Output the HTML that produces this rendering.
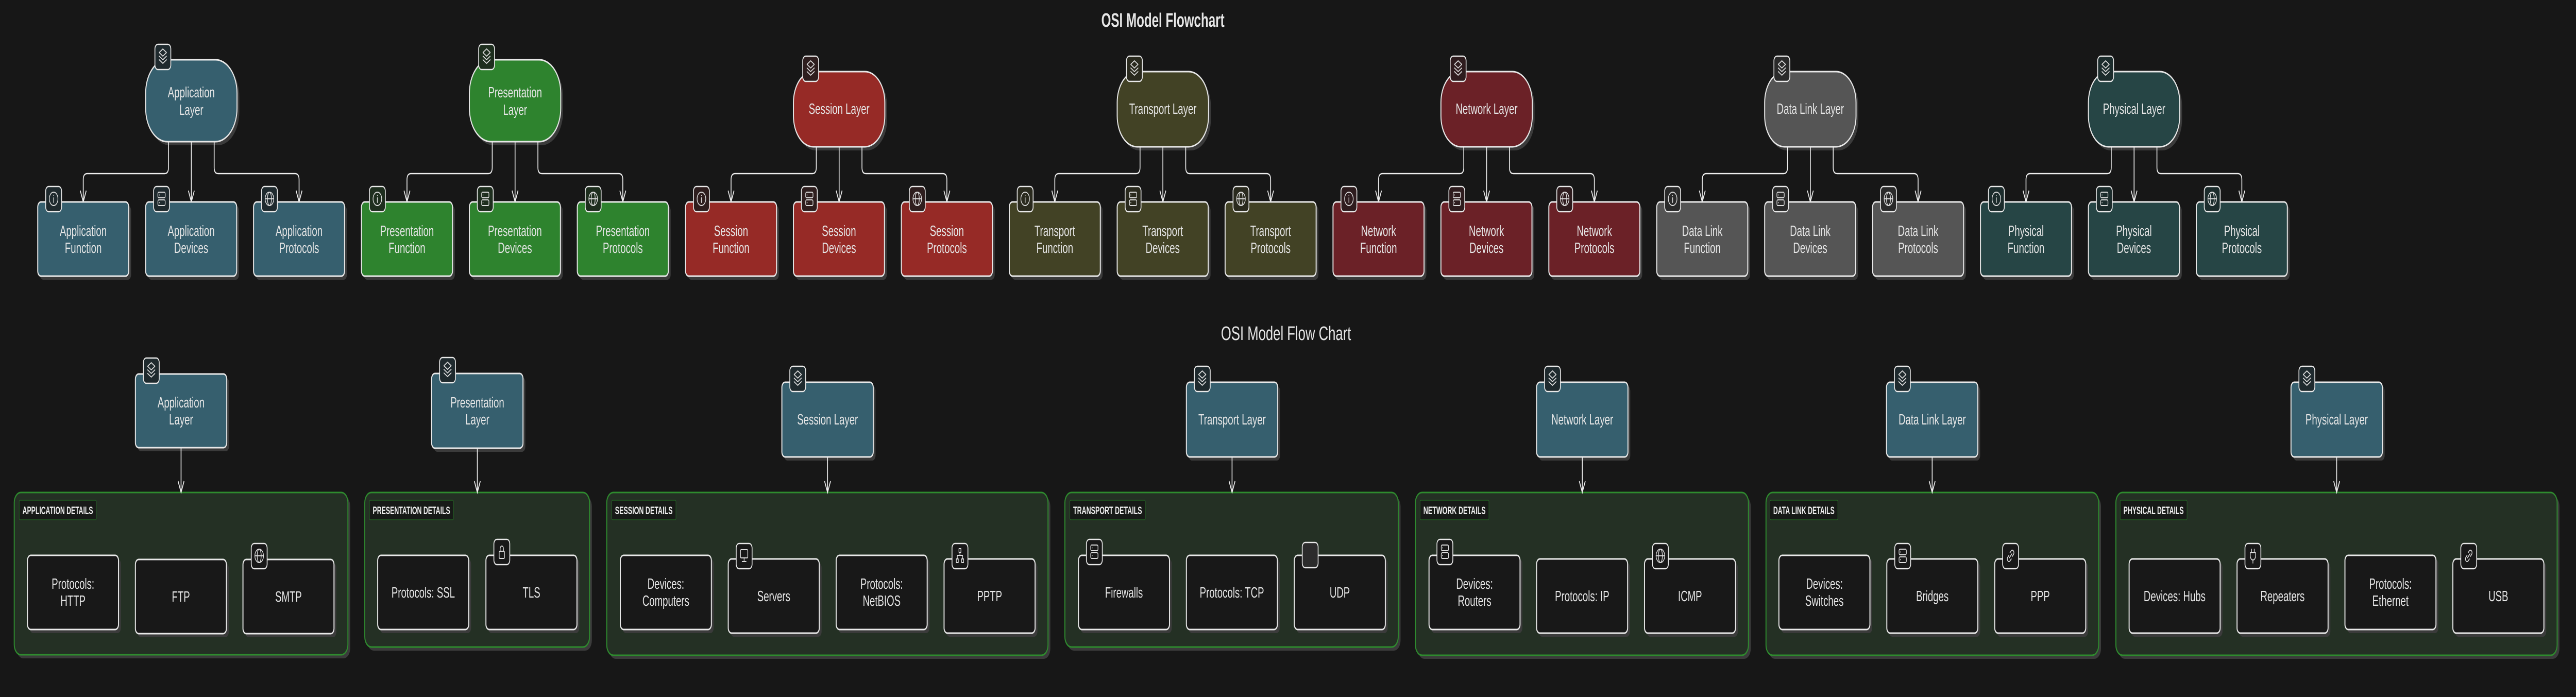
<!DOCTYPE html>
<html><head><meta charset="utf-8"><style>
html,body{margin:0;padding:0;background:#171717;width:100%;height:100%;overflow:hidden;}
svg{display:block;position:absolute;left:0;top:0;width:100vw;height:100vh;}
text{font-family:"Liberation Sans",Arial,sans-serif;fill:#e6e6e6;}
.t{font-size:29px;text-anchor:middle;}
.lb{font-size:21px;font-weight:bold;fill:#f0f0f0;}
.n{stroke:#e8e8e8;stroke-width:3;}
.sh{fill:#3b3b3b;}
.e{stroke:#eeeeee;stroke-width:2.5;fill:none;}
.ib{stroke:#e8e8e8;stroke-width:2.5;}
.g{stroke:#dddddd;stroke-width:2;fill:none;stroke-linecap:round;stroke-linejoin:round;}
</style></head><body>
<svg viewBox="0 0 7782 1353" preserveAspectRatio="none" xmlns="http://www.w3.org/2000/svg">
<defs>
<symbol id="layers" viewBox="0 0 48 48"><g class="g"><polygon points="24,9 35,16 24,23 13,16"/><polyline points="13,23 24,30 35,23"/><polyline points="13,30 24,37 35,30"/></g></symbol>
<symbol id="info" viewBox="0 0 48 48"><g class="g"><circle cx="24" cy="24" r="13"/><line x1="24" y1="22" x2="24" y2="31"/><line x1="24" y1="17" x2="24" y2="17.5"/></g></symbol>
<symbol id="server" viewBox="0 0 48 48"><g class="g"><rect x="13" y="11" width="22" height="11" rx="3"/><rect x="13" y="26" width="22" height="11" rx="3"/><line x1="17" y1="16.5" x2="17.5" y2="16.5"/><line x1="17" y1="31.5" x2="17.5" y2="31.5"/></g></symbol>
<symbol id="globe" viewBox="0 0 48 48"><g class="g"><circle cx="24" cy="24" r="13"/><ellipse cx="24" cy="24" rx="6" ry="13"/><line x1="11" y1="24" x2="37" y2="24"/></g></symbol>
<symbol id="lock" viewBox="0 0 48 48"><g class="g"><rect x="16" y="23" width="16" height="14" rx="2"/><path d="M19 23 V18 a5 5 0 0 1 10 0 V23"/></g></symbol>
<symbol id="monitor" viewBox="0 0 48 48"><g class="g"><rect x="13" y="12" width="22" height="16" rx="2"/><line x1="24" y1="28" x2="24" y2="34"/><line x1="18" y1="35" x2="30" y2="35"/></g></symbol>
<symbol id="sitemap" viewBox="0 0 48 48"><g class="g"><rect x="21" y="10" width="6" height="7"/><rect x="13" y="30" width="6" height="7"/><rect x="29" y="30" width="6" height="7"/><line x1="24" y1="17" x2="24" y2="23"/><polyline points="16,30 16,23 32,23 32,30"/></g></symbol>
<symbol id="link" viewBox="0 0 48 48"><g class="g"><path d="M22 18 l4 -4 a5 5 0 0 1 7 7 l-4 4"/><path d="M26 30 l-4 4 a5 5 0 0 1 -7 -7 l4 -4"/><line x1="20" y1="28" x2="28" y2="20"/></g></symbol>
<symbol id="plug" viewBox="0 0 48 48"><g class="g"><line x1="20" y1="11" x2="20" y2="18"/><line x1="28" y1="11" x2="28" y2="18"/><path d="M16 18 H32 V24 a8 8 0 0 1 -16 0 Z"/><line x1="24" y1="32" x2="24" y2="38"/></g></symbol>
</defs>
<rect width="7782" height="1353" fill="#171717"/>

<text x="3513" y="52" style="font-size:38px;font-weight:bold;" text-anchor="middle" textLength="372" lengthAdjust="spacingAndGlyphs">OSI Model Flowchart</text>
<text x="3885" y="660" style="font-size:38px;" text-anchor="middle" textLength="393" lengthAdjust="spacingAndGlyphs">OSI Model Flow Chart</text>

<!-- Application -->
<g>
<rect class="sh" x="447" y="123" width="276" height="159" rx="65"/>
<rect class="n" x="440" y="116" width="276" height="159" rx="65" fill="#365f6e"/>
<text class="t" x="578" y="189">Application</text><text class="t" x="578" y="223">Layer</text>
<rect class="ib" x="468" y="86" width="48" height="49" rx="9" fill="#1f2a2e"/><use href="#layers" x="468" y="86" width="48" height="48"/>
<path class="e" d="M509 275 V325 Q509 337 497 337 H263.5 Q251.5 337 251.5 349 V392"/>
<path class="e" d="M578 275 V392"/>
<path class="e" d="M647 275 V325 Q647 337 659 337 H891.5 Q903.5 337 903.5 349 V392"/>
<polyline class="e" points="242.5,370 251.5,392 260.5,370"/><polyline class="e" points="569,370 578,392 587,370"/><polyline class="e" points="894.5,370 903.5,392 912.5,370"/>
<rect class="sh" x="121" y="399" width="275" height="144" rx="10"/><rect class="n" x="114" y="392" width="275" height="144" rx="10" fill="#365f6e"/>
<rect class="sh" x="447" y="399" width="275" height="144" rx="10"/><rect class="n" x="440" y="392" width="275" height="144" rx="10" fill="#365f6e"/>
<rect class="sh" x="773" y="399" width="275" height="144" rx="10"/><rect class="n" x="766" y="392" width="275" height="144" rx="10" fill="#365f6e"/>
<text class="t" x="251.5" y="458">Application</text><text class="t" x="251.5" y="491">Function</text>
<text class="t" x="577.5" y="458">Application</text><text class="t" x="577.5" y="491">Devices</text>
<text class="t" x="903.5" y="458">Application</text><text class="t" x="903.5" y="491">Protocols</text>
<rect class="ib" x="138" y="362" width="48" height="49" rx="9" fill="#1f2a2e"/><use href="#info" x="138" y="362" width="48" height="48"/>
<rect class="ib" x="464" y="362" width="48" height="49" rx="9" fill="#1f2a2e"/><use href="#server" x="464" y="362" width="48" height="48"/>
<rect class="ib" x="790" y="362" width="48" height="49" rx="9" fill="#1f2a2e"/><use href="#globe" x="790" y="362" width="48" height="48"/>
</g>

<!-- Presentation -->
<g>
<rect class="sh" x="1425" y="123" width="276" height="159" rx="65"/>
<rect class="n" x="1418" y="116" width="276" height="159" rx="65" fill="#2e832e"/>
<text class="t" x="1556" y="189">Presentation</text><text class="t" x="1556" y="223">Layer</text>
<rect class="ib" x="1446" y="86" width="48" height="49" rx="9" fill="#1e2e1e"/><use href="#layers" x="1446" y="86" width="48" height="48"/>
<path class="e" d="M1487 275 V325 Q1487 337 1475 337 H1241.5 Q1229.5 337 1229.5 349 V392"/>
<path class="e" d="M1556 275 V392"/>
<path class="e" d="M1625 275 V325 Q1625 337 1637 337 H1869.5 Q1881.5 337 1881.5 349 V392"/>
<polyline class="e" points="1220.5,370 1229.5,392 1238.5,370"/><polyline class="e" points="1547,370 1556,392 1565,370"/><polyline class="e" points="1872.5,370 1881.5,392 1890.5,370"/>
<rect class="sh" x="1099" y="399" width="275" height="144" rx="10"/><rect class="n" x="1092" y="392" width="275" height="144" rx="10" fill="#2e832e"/>
<rect class="sh" x="1425" y="399" width="275" height="144" rx="10"/><rect class="n" x="1418" y="392" width="275" height="144" rx="10" fill="#2e832e"/>
<rect class="sh" x="1751" y="399" width="275" height="144" rx="10"/><rect class="n" x="1744" y="392" width="275" height="144" rx="10" fill="#2e832e"/>
<text class="t" x="1229.5" y="458">Presentation</text><text class="t" x="1229.5" y="491">Function</text>
<text class="t" x="1555.5" y="458">Presentation</text><text class="t" x="1555.5" y="491">Devices</text>
<text class="t" x="1881.5" y="458">Presentation</text><text class="t" x="1881.5" y="491">Protocols</text>
<rect class="ib" x="1116" y="362" width="48" height="49" rx="9" fill="#1e2e1e"/><use href="#info" x="1116" y="362" width="48" height="48"/>
<rect class="ib" x="1442" y="362" width="48" height="49" rx="9" fill="#1e2e1e"/><use href="#server" x="1442" y="362" width="48" height="48"/>
<rect class="ib" x="1768" y="362" width="48" height="49" rx="9" fill="#1e2e1e"/><use href="#globe" x="1768" y="362" width="48" height="48"/>
</g>

<!-- Session -->
<g>
<rect class="sh" x="2404" y="146" width="276" height="146" rx="60"/>
<rect class="n" x="2397" y="139" width="276" height="146" rx="60" fill="#962a26"/>
<text class="t" x="2535" y="221">Session Layer</text>
<rect class="ib" x="2425" y="109" width="48" height="49" rx="9" fill="#2e1e1e"/><use href="#layers" x="2425" y="109" width="48" height="48"/>
<path class="e" d="M2466 285 V325 Q2466 337 2454 337 H2220.5 Q2208.5 337 2208.5 349 V392"/>
<path class="e" d="M2535 285 V392"/>
<path class="e" d="M2604 285 V325 Q2604 337 2616 337 H2848.5 Q2860.5 337 2860.5 349 V392"/>
<polyline class="e" points="2199.5,370 2208.5,392 2217.5,370"/><polyline class="e" points="2526,370 2535,392 2544,370"/><polyline class="e" points="2851.5,370 2860.5,392 2869.5,370"/>
<rect class="sh" x="2078" y="399" width="275" height="144" rx="10"/><rect class="n" x="2071" y="392" width="275" height="144" rx="10" fill="#962a26"/>
<rect class="sh" x="2404" y="399" width="275" height="144" rx="10"/><rect class="n" x="2397" y="392" width="275" height="144" rx="10" fill="#962a26"/>
<rect class="sh" x="2730" y="399" width="275" height="144" rx="10"/><rect class="n" x="2723" y="392" width="275" height="144" rx="10" fill="#962a26"/>
<text class="t" x="2208.5" y="458">Session</text><text class="t" x="2208.5" y="491">Function</text>
<text class="t" x="2534.5" y="458">Session</text><text class="t" x="2534.5" y="491">Devices</text>
<text class="t" x="2860.5" y="458">Session</text><text class="t" x="2860.5" y="491">Protocols</text>
<rect class="ib" x="2095" y="362" width="48" height="49" rx="9" fill="#2e1e1e"/><use href="#info" x="2095" y="362" width="48" height="48"/>
<rect class="ib" x="2421" y="362" width="48" height="49" rx="9" fill="#2e1e1e"/><use href="#server" x="2421" y="362" width="48" height="48"/>
<rect class="ib" x="2747" y="362" width="48" height="49" rx="9" fill="#2e1e1e"/><use href="#globe" x="2747" y="362" width="48" height="48"/>
</g>

<!-- Transport -->
<g>
<rect class="sh" x="3382" y="146" width="276" height="146" rx="60"/>
<rect class="n" x="3375" y="139" width="276" height="146" rx="60" fill="#424225"/>
<text class="t" x="3513" y="221">Transport Layer</text>
<rect class="ib" x="3403" y="109" width="48" height="49" rx="9" fill="#2a2a1e"/><use href="#layers" x="3403" y="109" width="48" height="48"/>
<path class="e" d="M3444 285 V325 Q3444 337 3432 337 H3198.5 Q3186.5 337 3186.5 349 V392"/>
<path class="e" d="M3513 285 V392"/>
<path class="e" d="M3582 285 V325 Q3582 337 3594 337 H3826.5 Q3838.5 337 3838.5 349 V392"/>
<polyline class="e" points="3177.5,370 3186.5,392 3195.5,370"/><polyline class="e" points="3504,370 3513,392 3522,370"/><polyline class="e" points="3829.5,370 3838.5,392 3847.5,370"/>
<rect class="sh" x="3056" y="399" width="275" height="144" rx="10"/><rect class="n" x="3049" y="392" width="275" height="144" rx="10" fill="#424225"/>
<rect class="sh" x="3382" y="399" width="275" height="144" rx="10"/><rect class="n" x="3375" y="392" width="275" height="144" rx="10" fill="#424225"/>
<rect class="sh" x="3708" y="399" width="275" height="144" rx="10"/><rect class="n" x="3701" y="392" width="275" height="144" rx="10" fill="#424225"/>
<text class="t" x="3186.5" y="458">Transport</text><text class="t" x="3186.5" y="491">Function</text>
<text class="t" x="3512.5" y="458">Transport</text><text class="t" x="3512.5" y="491">Devices</text>
<text class="t" x="3838.5" y="458">Transport</text><text class="t" x="3838.5" y="491">Protocols</text>
<rect class="ib" x="3073" y="362" width="48" height="49" rx="9" fill="#2a2a1e"/><use href="#info" x="3073" y="362" width="48" height="48"/>
<rect class="ib" x="3399" y="362" width="48" height="49" rx="9" fill="#2a2a1e"/><use href="#server" x="3399" y="362" width="48" height="48"/>
<rect class="ib" x="3725" y="362" width="48" height="49" rx="9" fill="#2a2a1e"/><use href="#globe" x="3725" y="362" width="48" height="48"/>
</g>

<!-- Network -->
<g>
<rect class="sh" x="4360" y="146" width="276" height="146" rx="60"/>
<rect class="n" x="4353" y="139" width="276" height="146" rx="60" fill="#6b2127"/>
<text class="t" x="4491" y="221">Network Layer</text>
<rect class="ib" x="4381" y="109" width="48" height="49" rx="9" fill="#2e1c1e"/><use href="#layers" x="4381" y="109" width="48" height="48"/>
<path class="e" d="M4422 285 V325 Q4422 337 4410 337 H4176.5 Q4164.5 337 4164.5 349 V392"/>
<path class="e" d="M4491 285 V392"/>
<path class="e" d="M4560 285 V325 Q4560 337 4572 337 H4804.5 Q4816.5 337 4816.5 349 V392"/>
<polyline class="e" points="4155.5,370 4164.5,392 4173.5,370"/><polyline class="e" points="4482,370 4491,392 4500,370"/><polyline class="e" points="4807.5,370 4816.5,392 4825.5,370"/>
<rect class="sh" x="4034" y="399" width="275" height="144" rx="10"/><rect class="n" x="4027" y="392" width="275" height="144" rx="10" fill="#6b2127"/>
<rect class="sh" x="4360" y="399" width="275" height="144" rx="10"/><rect class="n" x="4353" y="392" width="275" height="144" rx="10" fill="#6b2127"/>
<rect class="sh" x="4686" y="399" width="275" height="144" rx="10"/><rect class="n" x="4679" y="392" width="275" height="144" rx="10" fill="#6b2127"/>
<text class="t" x="4164.5" y="458">Network</text><text class="t" x="4164.5" y="491">Function</text>
<text class="t" x="4490.5" y="458">Network</text><text class="t" x="4490.5" y="491">Devices</text>
<text class="t" x="4816.5" y="458">Network</text><text class="t" x="4816.5" y="491">Protocols</text>
<rect class="ib" x="4051" y="362" width="48" height="49" rx="9" fill="#2e1c1e"/><use href="#info" x="4051" y="362" width="48" height="48"/>
<rect class="ib" x="4377" y="362" width="48" height="49" rx="9" fill="#2e1c1e"/><use href="#server" x="4377" y="362" width="48" height="48"/>
<rect class="ib" x="4703" y="362" width="48" height="49" rx="9" fill="#2e1c1e"/><use href="#globe" x="4703" y="362" width="48" height="48"/>
</g>

<!-- Data Link -->
<g>
<rect class="sh" x="5338" y="146" width="276" height="146" rx="60"/>
<rect class="n" x="5331" y="139" width="276" height="146" rx="60" fill="#555555"/>
<text class="t" x="5469" y="221">Data Link Layer</text>
<rect class="ib" x="5359" y="109" width="48" height="49" rx="9" fill="#2a2a2a"/><use href="#layers" x="5359" y="109" width="48" height="48"/>
<path class="e" d="M5400 285 V325 Q5400 337 5388 337 H5154.5 Q5142.5 337 5142.5 349 V392"/>
<path class="e" d="M5469 285 V392"/>
<path class="e" d="M5538 285 V325 Q5538 337 5550 337 H5782.5 Q5794.5 337 5794.5 349 V392"/>
<polyline class="e" points="5133.5,370 5142.5,392 5151.5,370"/><polyline class="e" points="5460,370 5469,392 5478,370"/><polyline class="e" points="5785.5,370 5794.5,392 5803.5,370"/>
<rect class="sh" x="5012" y="399" width="275" height="144" rx="10"/><rect class="n" x="5005" y="392" width="275" height="144" rx="10" fill="#555555"/>
<rect class="sh" x="5338" y="399" width="275" height="144" rx="10"/><rect class="n" x="5331" y="392" width="275" height="144" rx="10" fill="#555555"/>
<rect class="sh" x="5664" y="399" width="275" height="144" rx="10"/><rect class="n" x="5657" y="392" width="275" height="144" rx="10" fill="#555555"/>
<text class="t" x="5142.5" y="458">Data Link</text><text class="t" x="5142.5" y="491">Function</text>
<text class="t" x="5468.5" y="458">Data Link</text><text class="t" x="5468.5" y="491">Devices</text>
<text class="t" x="5794.5" y="458">Data Link</text><text class="t" x="5794.5" y="491">Protocols</text>
<rect class="ib" x="5029" y="362" width="48" height="49" rx="9" fill="#2a2a2a"/><use href="#info" x="5029" y="362" width="48" height="48"/>
<rect class="ib" x="5355" y="362" width="48" height="49" rx="9" fill="#2a2a2a"/><use href="#server" x="5355" y="362" width="48" height="48"/>
<rect class="ib" x="5681" y="362" width="48" height="49" rx="9" fill="#2a2a2a"/><use href="#globe" x="5681" y="362" width="48" height="48"/>
</g>

<!-- Physical -->
<g>
<rect class="sh" x="6316" y="146" width="276" height="146" rx="60"/>
<rect class="n" x="6309" y="139" width="276" height="146" rx="60" fill="#264545"/>
<text class="t" x="6447" y="221">Physical Layer</text>
<rect class="ib" x="6337" y="109" width="48" height="49" rx="9" fill="#1c2c2c"/><use href="#layers" x="6337" y="109" width="48" height="48"/>
<path class="e" d="M6378 285 V325 Q6378 337 6366 337 H6132.5 Q6120.5 337 6120.5 349 V392"/>
<path class="e" d="M6447 285 V392"/>
<path class="e" d="M6516 285 V325 Q6516 337 6528 337 H6760.5 Q6772.5 337 6772.5 349 V392"/>
<polyline class="e" points="6111.5,370 6120.5,392 6129.5,370"/><polyline class="e" points="6438,370 6447,392 6456,370"/><polyline class="e" points="6763.5,370 6772.5,392 6781.5,370"/>
<rect class="sh" x="5990" y="399" width="275" height="144" rx="10"/><rect class="n" x="5983" y="392" width="275" height="144" rx="10" fill="#264545"/>
<rect class="sh" x="6316" y="399" width="275" height="144" rx="10"/><rect class="n" x="6309" y="392" width="275" height="144" rx="10" fill="#264545"/>
<rect class="sh" x="6642" y="399" width="275" height="144" rx="10"/><rect class="n" x="6635" y="392" width="275" height="144" rx="10" fill="#264545"/>
<text class="t" x="6120.5" y="458">Physical</text><text class="t" x="6120.5" y="491">Function</text>
<text class="t" x="6446.5" y="458">Physical</text><text class="t" x="6446.5" y="491">Devices</text>
<text class="t" x="6772.5" y="458">Physical</text><text class="t" x="6772.5" y="491">Protocols</text>
<rect class="ib" x="6007" y="362" width="48" height="49" rx="9" fill="#1c2c2c"/><use href="#info" x="6007" y="362" width="48" height="48"/>
<rect class="ib" x="6333" y="362" width="48" height="49" rx="9" fill="#1c2c2c"/><use href="#server" x="6333" y="362" width="48" height="48"/>
<rect class="ib" x="6659" y="362" width="48" height="49" rx="9" fill="#1c2c2c"/><use href="#globe" x="6659" y="362" width="48" height="48"/>
</g>

<!-- subgraphs -->
<g>
<rect class="sh" x="50" y="963" width="1008" height="315" rx="20"/>
<rect x="43" y="956" width="1008" height="315" rx="20" fill="#243024" stroke="#2e8b2e" stroke-width="3"/>
<rect class="sh" x="1109" y="963" width="679" height="300" rx="20"/>
<rect x="1102" y="956" width="679" height="300" rx="20" fill="#243024" stroke="#2e8b2e" stroke-width="3"/>
<rect class="sh" x="1840" y="963" width="1333" height="316" rx="20"/>
<rect x="1833" y="956" width="1333" height="316" rx="20" fill="#243024" stroke="#2e8b2e" stroke-width="3"/>
<rect class="sh" x="3224" y="963" width="1007" height="300" rx="20"/>
<rect x="3217" y="956" width="1007" height="300" rx="20" fill="#243024" stroke="#2e8b2e" stroke-width="3"/>
<rect class="sh" x="4283" y="963" width="1006" height="316" rx="20"/>
<rect x="4276" y="956" width="1006" height="316" rx="20" fill="#243024" stroke="#2e8b2e" stroke-width="3"/>
<rect class="sh" x="5342" y="963" width="1005" height="316" rx="20"/>
<rect x="5335" y="956" width="1005" height="316" rx="20" fill="#243024" stroke="#2e8b2e" stroke-width="3"/>
<rect class="sh" x="6399" y="963" width="1333" height="316" rx="20"/>
<rect x="6392" y="956" width="1333" height="316" rx="20" fill="#243024" stroke="#2e8b2e" stroke-width="3"/>
</g>
<g fill="#171a17" stroke="#245f24" stroke-width="1.5">
<rect x="58" y="971" width="233" height="38" rx="3"/>
<rect x="1116" y="971" width="254" height="38" rx="3"/>
<rect x="1848" y="971" width="194" height="38" rx="3"/>
<rect x="3232" y="971" width="228" height="38" rx="3"/>
<rect x="4290" y="971" width="208" height="38" rx="3"/>
<rect x="5347" y="971" width="205" height="38" rx="3"/>
<rect x="6405" y="971" width="202" height="38" rx="3"/>
</g>
<text class="lb" x="68" y="998" textLength="213" lengthAdjust="spacingAndGlyphs">APPLICATION DETAILS</text>
<text class="lb" x="1126" y="998" textLength="234" lengthAdjust="spacingAndGlyphs">PRESENTATION DETAILS</text>
<text class="lb" x="1858" y="998" textLength="174" lengthAdjust="spacingAndGlyphs">SESSION DETAILS</text>
<text class="lb" x="3242" y="998" textLength="208" lengthAdjust="spacingAndGlyphs">TRANSPORT DETAILS</text>
<text class="lb" x="4300" y="998" textLength="188" lengthAdjust="spacingAndGlyphs">NETWORK DETAILS</text>
<text class="lb" x="5357" y="998" textLength="185" lengthAdjust="spacingAndGlyphs">DATA LINK DETAILS</text>
<text class="lb" x="6415" y="998" textLength="182" lengthAdjust="spacingAndGlyphs">PHYSICAL DETAILS</text>

<!-- layer nodes bottom -->
<g>
<rect class="sh" x="416" y="733" width="276" height="143" rx="10"/><rect class="n" x="409" y="726" width="276" height="143" rx="10" fill="#365f6e"/>
<rect class="sh" x="1311" y="732" width="276" height="145" rx="10"/><rect class="n" x="1304" y="725" width="276" height="145" rx="10" fill="#365f6e"/>
<rect class="sh" x="2369" y="749" width="276" height="145" rx="10"/><rect class="n" x="2362" y="742" width="276" height="145" rx="10" fill="#365f6e"/>
<rect class="sh" x="3591" y="749" width="276" height="145" rx="10"/><rect class="n" x="3584" y="742" width="276" height="145" rx="10" fill="#365f6e"/>
<rect class="sh" x="4649" y="749" width="276" height="145" rx="10"/><rect class="n" x="4642" y="742" width="276" height="145" rx="10" fill="#365f6e"/>
<rect class="sh" x="5706" y="749" width="276" height="145" rx="10"/><rect class="n" x="5699" y="742" width="276" height="145" rx="10" fill="#365f6e"/>
<rect class="sh" x="6928" y="749" width="276" height="145" rx="10"/><rect class="n" x="6921" y="742" width="276" height="145" rx="10" fill="#365f6e"/>
<text class="t" x="547" y="791">Application</text><text class="t" x="547" y="824">Layer</text>
<text class="t" x="1442" y="791">Presentation</text><text class="t" x="1442" y="824">Layer</text>
<text class="t" x="2500" y="824">Session Layer</text>
<text class="t" x="3722" y="824">Transport Layer</text>
<text class="t" x="4780" y="824">Network Layer</text>
<text class="t" x="5837" y="824">Data Link Layer</text>
<text class="t" x="7059" y="824">Physical Layer</text>
<rect class="ib" x="433" y="695" width="48" height="49" rx="9" fill="#1f2a2e"/><use href="#layers" x="433" y="695" width="48" height="48"/>
<rect class="ib" x="1328" y="694" width="48" height="49" rx="9" fill="#1f2a2e"/><use href="#layers" x="1328" y="694" width="48" height="48"/>
<rect class="ib" x="2386" y="711" width="48" height="49" rx="9" fill="#1f2a2e"/><use href="#layers" x="2386" y="711" width="48" height="48"/>
<rect class="ib" x="3608" y="711" width="48" height="49" rx="9" fill="#1f2a2e"/><use href="#layers" x="3608" y="711" width="48" height="48"/>
<rect class="ib" x="4666" y="711" width="48" height="49" rx="9" fill="#1f2a2e"/><use href="#layers" x="4666" y="711" width="48" height="48"/>
<rect class="ib" x="5723" y="711" width="48" height="49" rx="9" fill="#1f2a2e"/><use href="#layers" x="5723" y="711" width="48" height="48"/>
<rect class="ib" x="6945" y="711" width="48" height="49" rx="9" fill="#1f2a2e"/><use href="#layers" x="6945" y="711" width="48" height="48"/>
<path class="e" d="M547 869 V956 M1442 870 V956 M2500 887 V956 M3722 887 V956 M4780 887 V956 M5837 887 V956 M7059 887 V956"/>
<polyline class="e" points="538,934 547,956 556,934"/>
<polyline class="e" points="1433,934 1442,956 1451,934"/>
<polyline class="e" points="2491,934 2500,956 2509,934"/>
<polyline class="e" points="3713,934 3722,956 3731,934"/>
<polyline class="e" points="4771,934 4780,956 4789,934"/>
<polyline class="e" points="5828,934 5837,956 5846,934"/>
<polyline class="e" points="7050,934 7059,956 7068,934"/>
</g>

<!-- detail nodes -->
<g>
<rect class="sh" x="90" y="1085" width="275" height="144" rx="10"/>
<rect class="sh" x="416" y="1093" width="275" height="144" rx="10"/>
<rect class="sh" x="741" y="1093" width="275" height="144" rx="10"/>
<rect class="sh" x="1148" y="1085" width="275" height="144" rx="10"/>
<rect class="sh" x="1475" y="1085" width="275" height="144" rx="10"/>
<rect class="sh" x="1881" y="1085" width="275" height="144" rx="10"/>
<rect class="sh" x="2207" y="1092" width="275" height="144" rx="10"/>
<rect class="sh" x="2533" y="1085" width="275" height="144" rx="10"/>
<rect class="sh" x="2859" y="1092" width="275" height="144" rx="10"/>
<rect class="sh" x="3265" y="1085" width="275" height="144" rx="10"/>
<rect class="sh" x="3591" y="1085" width="275" height="144" rx="10"/>
<rect class="sh" x="3917" y="1085" width="275" height="144" rx="10"/>
<rect class="sh" x="4324" y="1085" width="275" height="144" rx="10"/>
<rect class="sh" x="4649" y="1092" width="275" height="144" rx="10"/>
<rect class="sh" x="4975" y="1092" width="275" height="144" rx="10"/>
<rect class="sh" x="5381" y="1085" width="275" height="144" rx="10"/>
<rect class="sh" x="5707" y="1092" width="275" height="144" rx="10"/>
<rect class="sh" x="6033" y="1092" width="275" height="144" rx="10"/>
<rect class="sh" x="6439" y="1092" width="275" height="144" rx="10"/>
<rect class="sh" x="6765" y="1092" width="275" height="144" rx="10"/>
<rect class="sh" x="7091" y="1085" width="275" height="144" rx="10"/>
<rect class="sh" x="7417" y="1092" width="275" height="144" rx="10"/>
</g>
<g fill="#181818">
<rect class="n" x="83" y="1078" width="275" height="144" rx="10"/>
<rect class="n" x="409" y="1086" width="275" height="144" rx="10"/>
<rect class="n" x="734" y="1086" width="275" height="144" rx="10"/>
<rect class="n" x="1141" y="1078" width="275" height="144" rx="10"/>
<rect class="n" x="1468" y="1078" width="275" height="144" rx="10"/>
<rect class="n" x="1874" y="1078" width="275" height="144" rx="10"/>
<rect class="n" x="2200" y="1085" width="275" height="144" rx="10"/>
<rect class="n" x="2526" y="1078" width="275" height="144" rx="10"/>
<rect class="n" x="2852" y="1085" width="275" height="144" rx="10"/>
<rect class="n" x="3258" y="1078" width="275" height="144" rx="10"/>
<rect class="n" x="3584" y="1078" width="275" height="144" rx="10"/>
<rect class="n" x="3910" y="1078" width="275" height="144" rx="10"/>
<rect class="n" x="4317" y="1078" width="275" height="144" rx="10"/>
<rect class="n" x="4642" y="1085" width="275" height="144" rx="10"/>
<rect class="n" x="4968" y="1085" width="275" height="144" rx="10"/>
<rect class="n" x="5374" y="1078" width="275" height="144" rx="10"/>
<rect class="n" x="5700" y="1085" width="275" height="144" rx="10"/>
<rect class="n" x="6026" y="1085" width="275" height="144" rx="10"/>
<rect class="n" x="6432" y="1085" width="275" height="144" rx="10"/>
<rect class="n" x="6758" y="1085" width="275" height="144" rx="10"/>
<rect class="n" x="7084" y="1078" width="275" height="144" rx="10"/>
<rect class="n" x="7410" y="1085" width="275" height="144" rx="10"/>
</g>
<text class="t" x="220.5" y="1143">Protocols:</text><text class="t" x="220.5" y="1176">HTTP</text>
<text class="t" x="546.5" y="1168">FTP</text>
<text class="t" x="871.5" y="1168">SMTP</text>
<text class="t" x="1278.5" y="1160">Protocols: SSL</text>
<text class="t" x="1605.5" y="1160">TLS</text>
<text class="t" x="2011.5" y="1143">Devices:</text><text class="t" x="2011.5" y="1176">Computers</text>
<text class="t" x="2337.5" y="1167">Servers</text>
<text class="t" x="2663.5" y="1143">Protocols:</text><text class="t" x="2663.5" y="1176">NetBIOS</text>
<text class="t" x="2989.5" y="1167">PPTP</text>
<text class="t" x="3395.5" y="1160">Firewalls</text>
<text class="t" x="3721.5" y="1160">Protocols: TCP</text>
<text class="t" x="4047.5" y="1160">UDP</text>
<text class="t" x="4454.5" y="1143">Devices:</text><text class="t" x="4454.5" y="1176">Routers</text>
<text class="t" x="4779.5" y="1167">Protocols: IP</text>
<text class="t" x="5105.5" y="1167">ICMP</text>
<text class="t" x="5511.5" y="1143">Devices:</text><text class="t" x="5511.5" y="1176">Switches</text>
<text class="t" x="5837.5" y="1167">Bridges</text>
<text class="t" x="6163.5" y="1167">PPP</text>
<text class="t" x="6569.5" y="1167">Devices: Hubs</text>
<text class="t" x="6895.5" y="1167">Repeaters</text>
<text class="t" x="7221.5" y="1143">Protocols:</text><text class="t" x="7221.5" y="1176">Ethernet</text>
<text class="t" x="7547.5" y="1167">USB</text>
<g fill="#181818">
<rect class="ib" x="759" y="1055" width="48" height="49" rx="9"/><use href="#globe" x="759" y="1055" width="48" height="48"/>
<rect class="ib" x="1492" y="1047" width="48" height="49" rx="9"/><use href="#lock" x="1492" y="1047" width="48" height="48"/>
<rect class="ib" x="2224" y="1055" width="48" height="49" rx="9"/><use href="#monitor" x="2224" y="1055" width="48" height="48"/>
<rect class="ib" x="2876" y="1055" width="48" height="49" rx="9"/><use href="#sitemap" x="2876" y="1055" width="48" height="48"/>
<rect class="ib" x="3282" y="1047" width="48" height="49" rx="9"/><use href="#server" x="3282" y="1047" width="48" height="48"/>
<rect class="ib" x="3934" y="1053" width="48" height="49" rx="9" fill="#2c2c2c"/>
<rect class="ib" x="4341" y="1047" width="48" height="49" rx="9"/><use href="#server" x="4341" y="1047" width="48" height="48"/>
<rect class="ib" x="4992" y="1055" width="48" height="49" rx="9"/><use href="#globe" x="4992" y="1055" width="48" height="48"/>
<rect class="ib" x="5724" y="1055" width="48" height="49" rx="9"/><use href="#server" x="5724" y="1055" width="48" height="48"/>
<rect class="ib" x="6050" y="1055" width="48" height="49" rx="9"/><use href="#link" x="6050" y="1055" width="48" height="48"/>
<rect class="ib" x="6782" y="1055" width="48" height="49" rx="9"/><use href="#plug" x="6782" y="1055" width="48" height="48"/>
<rect class="ib" x="7434" y="1055" width="48" height="49" rx="9"/><use href="#link" x="7434" y="1055" width="48" height="48"/>
</g>
</svg>
</body></html>
